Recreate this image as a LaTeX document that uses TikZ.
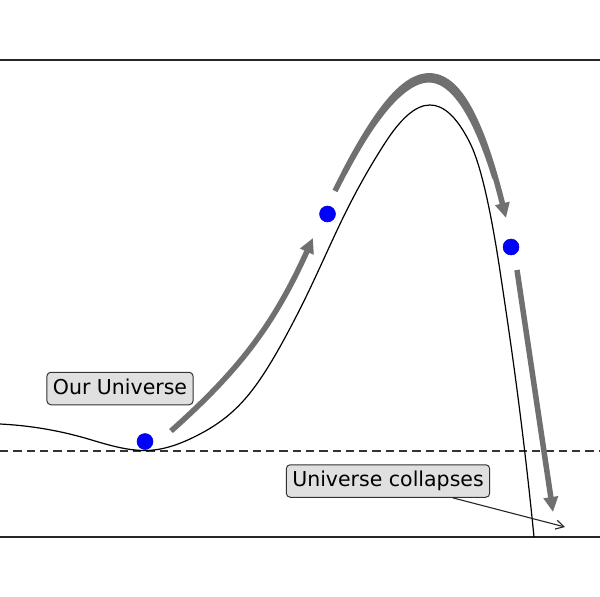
\documentclass[tikz,border=0pt]{standalone}
\usepackage{fontspec}
\setmainfont{DejaVu Sans}
\usetikzlibrary{arrows.meta}
\definecolor{arrowgray}{RGB}{112,112,112}
\definecolor{boxfill}{RGB}{224,224,224}
\definecolor{dotblue}{RGB}{0,0,255}
\begin{document}
\begin{tikzpicture}[x=1bp,y=-1bp,
  declare function={
    bx(\t)=(1-\t)^3*335+3*(1-\t)^2*\t*413+3*(1-\t)*\t^2*461+\t^3*506;
    by(\t)=(1-\t)^3*191+3*(1-\t)^2*\t*34+3*(1-\t)*\t^2*38+\t^3*218;
    dbx(\t)=3*(1-\t)^2*0.78+6*(1-\t)*\t*0.48+3*\t^2*0.45;
    dby(\t)=3*(1-\t)^2*(-1.57)+6*(1-\t)*\t*0.04+3*\t^2*1.80;
    hw(\t)=2.75+2.0*sin(180*\t)^2;
    nx(\t)=-dby(\t)/veclen(dbx(\t),dby(\t));
    ny(\t)=dbx(\t)/veclen(dbx(\t),dby(\t));
  },
  frame/.style={line width=1.1bp, draw=black!85},
  potential/.style={line width=1.2bp, draw=black},
  zeroline/.style={line width=1.1bp, draw=black!80, dash pattern=on 8.3bp off 5bp},
  motion/.style={line width=5.5bp, draw=arrowgray, -{Triangle[length=15bp,width=14bp]}},
  ball/.style={circle, fill=dotblue, draw=dotblue!80!black, line width=0.5bp, minimum size=16bp, inner sep=0pt},
  label/.style={draw=black!80, fill=boxfill, rounded corners=4bp, line width=1bp, inner xsep=6bp, inner ysep=0pt, minimum height=32.5bp, font=\fontsize{20.5bp}{24bp}\selectfont, text height=15.5bp, text depth=4bp},
  pointer/.style={line width=1.1bp, draw=black!85, -{Straight Barb[length=8bp,width=9bp]}}]
\useasboundingbox (0,0) rectangle (600,597);
\fill[white] (0,0) rectangle (600,597);
% axes frame (top and bottom)
\draw[frame] (0,60) -- (600,60);
\draw[frame] (0,537) -- (600,537);
% zero level
\draw[zeroline] (0,451) -- (600,451);
% potential curve (Hermite segments)
\draw[potential] (0,424)
  .. controls (30,425.5) and (60,430.5) .. (90,439.5)
  .. controls (108.33,445) and (126.67,450.5) .. (145,450.5)
  .. controls (163.33,450.5) and (181.67,443.7) .. (200,434)
  .. controls (216.67,425.2) and (233.33,413.8) .. (250,393)
  .. controls (266.67,372.2) and (283.33,341.8) .. (300,309)
  .. controls (313.33,282.7) and (326.67,252) .. (340,224)
  .. controls (355,192.5) and (370,166.25) .. (385,143)
  .. controls (400,119.75) and (415,105) .. (430,105)
  .. controls (443.33,105) and (456.67,116.3) .. (470,143)
  .. controls (480,163) and (490,205) .. (500,271)
  .. controls (511.33,345.8) and (522.67,423.7) .. (534,537);
% balls
\node[ball] (b1) at (145,441.5) {};
\node[ball] (b2) at (327.5,214) {};
\node[ball] (b3) at (511,247) {};
% motion arrows
\coordinate (a1s) at (171,431);
\coordinate (a1e) at (313,238);
\coordinate (a2s) at (335,191);
\coordinate (a2e) at (506,218);
\coordinate (a3s) at (517,270);
\coordinate (a3e) at (553,512);
\draw[motion] (a1s) to[bend right=12] (a1e);
\draw[motion] (a2s) .. controls (413,34) and (461,38) .. (a2e);
% thicker middle of the strongly curved arrow
\fill[arrowgray] plot[variable=\t, domain=0.04:0.92, samples=70, smooth]
   ({bx(\t)+hw(\t)*nx(\t)},{by(\t)+hw(\t)*ny(\t)})
   -- plot[variable=\t, domain=0.92:0.04, samples=70, smooth]
   ({bx(\t)-hw(\t)*nx(\t)},{by(\t)-hw(\t)*ny(\t)}) -- cycle;
\draw[motion] (a3s) -- (a3e);
% labels
\node[label] (ours) at (120,388.5) {Our Universe};
\node[label] (collapse) at (388,481) {Universe collapses};
\coordinate (tip) at (565,527);
\draw[pointer] (collapse) -- (tip);
\end{tikzpicture}
\end{document}
